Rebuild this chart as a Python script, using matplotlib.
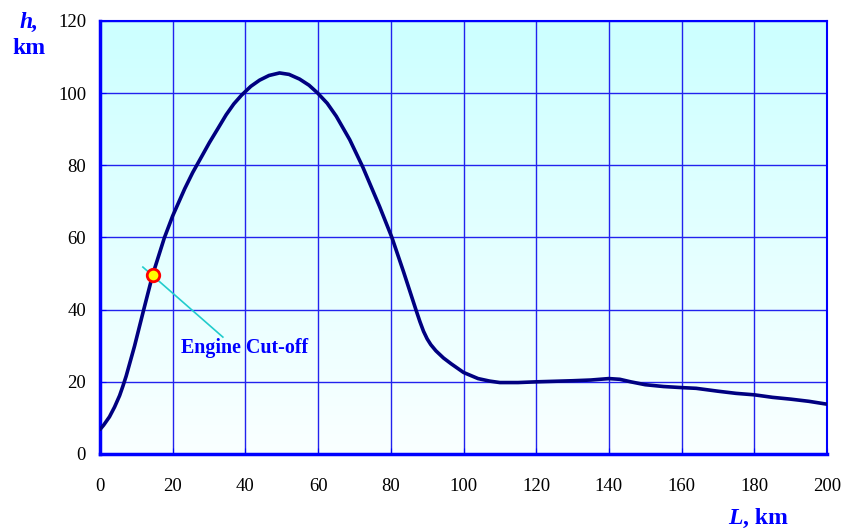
import numpy as np
import matplotlib.pyplot as plt
from matplotlib.colors import LinearSegmentedColormap

# trajectory
L_km = [0, 1, 2.6, 4, 5.4, 6.3, 7.2, 9.5, 11.8, 14.5, 17.7, 20, 23.3, 25.5,
        28, 30.1, 32.5, 34.7, 36.8, 38.9, 41.5, 43.9, 46.5, 49.4, 52, 54.9,
        57.5, 59.9, 62.5, 65, 68.7, 72.3, 76.9, 80.3, 83.5, 86.9, 88, 89, 90,
        91, 92.4, 94.5, 96.6, 100, 104, 107.2, 110, 115, 120, 130, 135, 140,
        143, 146, 150, 155, 160, 164, 170, 175, 180, 185, 190, 195, 200]
h_km = [6.8, 8.0, 10.3, 13.0, 16.2, 18.8, 21.6, 29.9, 39.1, 49.7, 59.9, 66,
        73.5, 78, 82.5, 86.3, 90.3, 94, 97.0, 99.4, 101.9, 103.6, 104.9,
        105.6, 105.2, 103.9, 102.2, 100, 97.2, 93.6, 87.1, 79.5, 68.6, 60,
        50.5, 40, 36.7, 34, 31.9, 30.3, 28.6, 26.6, 25.0, 22.6, 20.9, 20.2,
        19.8, 19.8, 20, 20.3, 20.5, 20.9, 20.7, 20.0, 19.2, 18.7, 18.4, 18.2,
        17.4, 16.8, 16.4, 15.7, 15.2, 14.6, 13.8]

cutoff_L, cutoff_h = 14.6, 49.6
xticks = list(range(0, 201, 20))
yticks = list(range(0, 121, 20))

plt.rcParams['font.family'] = ['Liberation Serif', 'DejaVu Serif']

fig = plt.figure(figsize=(8.41, 5.3), dpi=100)
ax = fig.add_axes([0.1189, 0.1434, 0.8645, 0.817])

# background gradient cyan -> white
cmap = LinearSegmentedColormap.from_list('bg', ['#FAFFFF', '#CCFFFF'])
grad = np.linspace(0, 1, 256).reshape(-1, 1)
ax.imshow(grad, aspect='auto', cmap=cmap, origin='lower',
          extent=[0, 200, 0, 120], zorder=0)

ax.set_xlim(0, 200)
ax.set_ylim(0, 120)
ax.set_xticks(xticks)
ax.set_yticks(yticks)
ax.grid(True, color='#2222EE', lw=1.0, zorder=1)
ax.tick_params(direction='in', length=4, color='#0000FF', labelsize=13.5,
               labelcolor='black')
ax.tick_params(axis='y', pad=10)
ax.tick_params(axis='x', pad=17)

for side in ['left', 'bottom']:
    ax.spines[side].set_color('#0000FF')
    ax.spines[side].set_linewidth(2.5)
for side in ['top', 'right']:
    ax.spines[side].set_color('#0000FF')
    ax.spines[side].set_linewidth(1.5)

ax.plot(L_km, h_km, color='#000080', lw=2.6, zorder=3,
        solid_capstyle='round', solid_joinstyle='round')

# engine cut-off marker with leader line
ax.plot([11.8, 33.8], [51.8, 32.4], color='#22CCCC', lw=1.2, zorder=4)
ax.plot(cutoff_L, cutoff_h, 'o', ms=9, mfc='#FFFF00', mec='#FF0000',
        mew=2, zorder=5)
ax.text(22.3, 29.4, 'Engine Cut-off', color='#0000FF', fontsize=14.4,
        fontweight='bold', va='center', ha='left', zorder=5)

# axis labels in the corners
fig.text(0.034, 0.957, 'h,', color='#0000FF', fontsize=17,
         fontweight='bold', fontstyle='italic', ha='center', va='center')
fig.text(0.0345, 0.909, 'km', color='#0000FF', fontsize=17,
         fontweight='bold', ha='center', va='center')
tL = fig.text(0.866, 0.021, 'L', color='#0000FF', fontsize=17,
              fontweight='bold', fontstyle='italic', ha='left', va='center')
ax.annotate(', km', xy=(1, 0.5), xycoords=tL, color='#0000FF', fontsize=17,
            fontweight='bold', ha='left', va='center', annotation_clip=False)

fig.savefig('out.png', dpi=100)
